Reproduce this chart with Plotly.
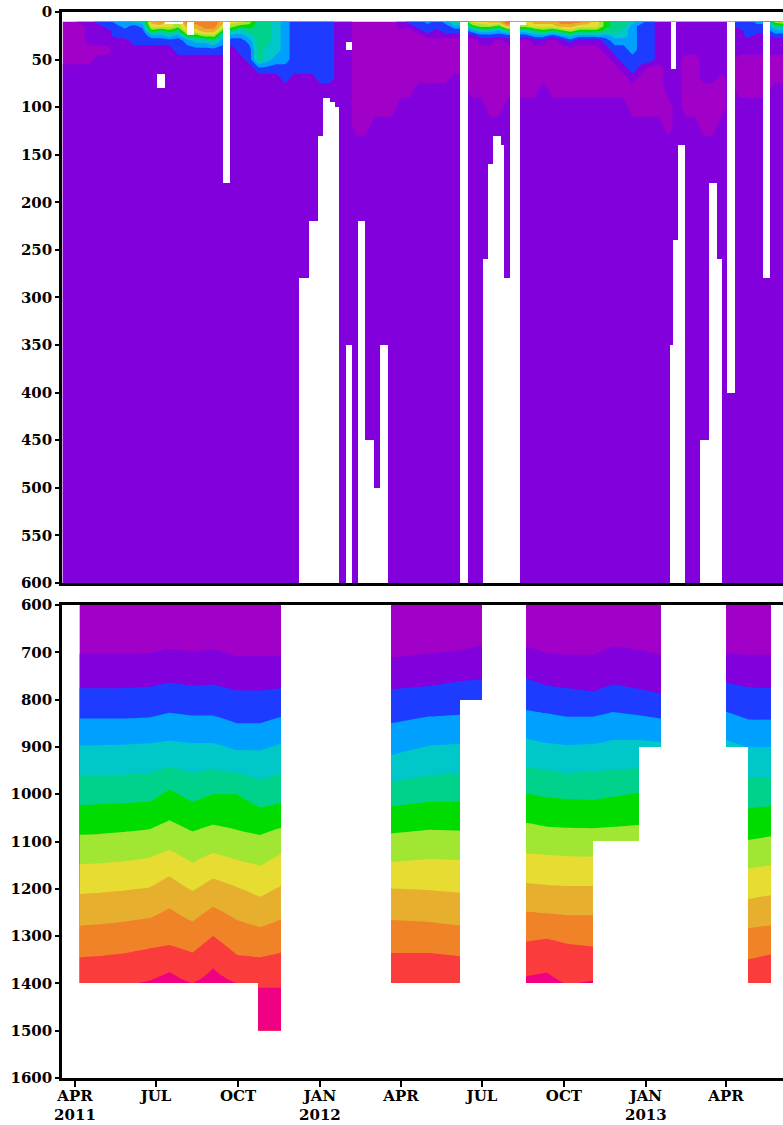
import numpy as np
import pandas as pd
import plotly.graph_objects as go

# ---------------- colour bands (low -> high) ----------------
band_colors = ["#A000C8", "#8200DC", "#1E3CFF", "#00A0FF", "#00C8C8", "#00D28C",
               "#00DC00", "#A0E632", "#E6DC32", "#E6AF2D", "#F08228", "#FA3C3C", "#F00082"]

# ---------------- upper panel (0-600 m) ----------------
top_start = "2011-03-18"
top_step = "10D"
top_depths = [10, 15, 20, 25, 30, 40, 50, 60, 70, 80, 100, 120, 140, 600]
# one string per profile, one band index (hex) per depth in top_depths
top_profiles = [
    "00000001111111", "00000001111111", "10000001111111", "11111001111111",
    "21111011111111", "22111011111111", "32221111111111", "33221111111111",
    "42222111111111", "43222111111111", "98632111111111", "a8532111111111",
    "88642111111111", "77532211111111", "b9863211111111", "a9864211111111",
    "aa974211111111", "aa975211111111", "98643211111111", "87532111111111",
    "86432211111111", "76543221111111", "55555552111111", "55555442111111",
    "44444432111111", "33333332211111", "22222222111111", "22222222111111",
    "22222222111111", "22222222211111", "22222222211111", "11111111111111",
    "11111111111111", "00000000000011", "00000000000011", "00000000000111",
    "00000000000111", "00000000000111", "11000000001111", "21000000001111",
    "22100000011111", "32210000011111", "22110000011111", "32210000011111",
    "53210000111111", "53210000111111", "86310000001111", "87421000001111",
    "97421000000111", "96320000000111", "b9521000001111", "97421000001111",
    "87420000001111", "98531000001111", "98631000011111", "98520000001111",
    "a9631000001111", "a9742000001111", "a8631000001111", "98631000001111",
    "88631000001111", "66532100001111", "55543210001111", "55443221001111",
    "43333322100111", "32222221000111", "22222220000111", "11111110000111",
    "11111111110011", "11111111111111", "11111100000111", "11111100000111",
    "11111111100011", "11111111100011", "11111111000111", "11111111111111",
    "22111100001111", "22221100001111", "32211100001111", "32211100001111",
    "75321100011111", "85321100011111",
]
# missing data in the upper panel: (start, end, top depth, bottom depth)
top_missing = [
    ("2011-07-02", "2011-07-11", 65, 80),
    ("2011-07-11", "2011-07-31", 10, 13),
    ("2011-08-05", "2011-08-13", 10, 24),
    ("2011-09-14", "2011-09-22", 10, 180),
    ("2011-12-09", "2011-12-20", 280, 600),
    ("2011-12-20", "2011-12-30", 220, 600),
    ("2011-12-30", "2012-01-04", 130, 600),
    ("2012-01-04", "2012-01-12", 90, 600),
    ("2012-01-12", "2012-01-18", 95, 600),
    ("2012-01-18", "2012-01-23", 100, 600),
    ("2012-01-30", "2012-02-06", 32, 40),
    ("2012-01-30", "2012-02-06", 350, 600),
    ("2012-02-13", "2012-02-21", 220, 600),
    ("2012-02-21", "2012-03-02", 450, 600),
    ("2012-03-02", "2012-03-09", 500, 600),
    ("2012-03-09", "2012-03-18", 350, 600),
    ("2012-06-06", "2012-06-15", 10, 600),
    ("2012-07-02", "2012-07-08", 260, 600),
    ("2012-07-08", "2012-07-13", 160, 600),
    ("2012-07-13", "2012-07-22", 130, 600),
    ("2012-07-22", "2012-07-26", 140, 600),
    ("2012-07-26", "2012-08-02", 280, 600),
    ("2012-08-02", "2012-08-13", 10, 600),
    ("2012-08-13", "2012-08-19", 10, 14),
    ("2013-01-29", "2013-02-04", 10, 60),
    ("2013-01-29", "2013-01-31", 350, 600),
    ("2013-01-31", "2013-02-06", 240, 600),
    ("2013-02-06", "2013-02-14", 140, 600),
    ("2013-03-03", "2013-03-13", 450, 600),
    ("2013-03-13", "2013-03-22", 180, 600),
    ("2013-03-22", "2013-03-27", 260, 600),
    ("2013-04-02", "2013-04-11", 10, 400),
    ("2013-05-12", "2013-05-20", 10, 280),
]

# ---------------- lower panel (600-1600 m) ----------------
bottom_dates = [
    "2011-04-06", "2011-04-29", "2011-05-25", "2011-06-24", "2011-07-16",
    "2011-08-11", "2011-09-03", "2011-09-30", "2011-10-26", "2011-11-18",
    "2012-03-21", "2012-05-03", "2012-06-06", "2012-07-01",
    "2012-08-19", "2012-09-12", "2012-10-04", "2012-11-03", "2012-11-25",
    "2012-12-24", "2013-01-18",
    "2013-04-01", "2013-04-26", "2013-05-22",
]
# depth of each of the 12 band boundaries for every profile
bottom_boundaries = [
    [704, 776, 840, 897, 961, 1023, 1086, 1148, 1211, 1278, 1345, 1420],
    [704, 776, 840, 896, 960, 1021, 1084, 1146, 1208, 1275, 1342, 1420],
    [704, 776, 840, 895, 959, 1019, 1080, 1142, 1204, 1270, 1337, 1405],
    [702, 773, 838, 892, 956, 1016, 1074, 1134, 1197, 1262, 1326, 1393],
    [693, 764, 828, 887, 942, 990, 1055, 1118, 1173, 1241, 1319, 1375],
    [699, 771, 834, 892, 956, 1016, 1079, 1145, 1205, 1269, 1335, 1400],
    [694, 768, 834, 892, 947, 1000, 1064, 1124, 1178, 1238, 1300, 1368],
    [709, 781, 850, 907, 956, 1000, 1076, 1139, 1196, 1266, 1340, 1400],
    [708, 781, 850, 907, 969, 1028, 1086, 1151, 1217, 1281, 1345, 1409],
    [708, 776, 837, 893, 957, 1019, 1071, 1126, 1194, 1265, 1335, 1409],
    [711, 778, 850, 917, 974, 1025, 1083, 1143, 1199, 1266, 1335, 1420],
    [703, 771, 836, 897, 960, 1016, 1075, 1137, 1203, 1270, 1335, 1420],
    [697, 761, 832, 893, 956, 1016, 1077, 1139, 1208, 1278, 1342, 1420],
    [686, 757, 832, 893, 956, 1016, 1077, 1139, 1208, 1278, 1342, 1420],
    [688, 755, 822, 882, 942, 998, 1060, 1125, 1188, 1248, 1312, 1384],
    [702, 770, 829, 892, 949, 1007, 1069, 1128, 1192, 1252, 1305, 1377],
    [706, 776, 836, 896, 956, 1010, 1071, 1131, 1194, 1256, 1315, 1403],
    [706, 783, 836, 894, 952, 1012, 1072, 1132, 1194, 1256, 1322, 1393],
    [688, 768, 826, 885, 949, 1005, 1069, 1130, 1192, 1254, 1318, 1395],
    [695, 778, 833, 885, 945, 997, 1065, 1130, 1192, 1254, 1318, 1395],
    [706, 788, 840, 890, 950, 1000, 1065, 1130, 1192, 1254, 1318, 1395],
    [702, 764, 826, 885, 950, 1015, 1080, 1145, 1205, 1270, 1335, 1420],
    [706, 774, 842, 901, 966, 1030, 1097, 1157, 1222, 1283, 1349, 1420],
    [706, 776, 843, 900, 963, 1025, 1089, 1150, 1213, 1277, 1338, 1420],
]
bottom_missing = [
    ("2011-04-06", "2011-10-24", 1400, 1500),
    ("2011-11-18", "2012-03-21", 600, 1500),
    ("2012-03-21", "2012-06-06", 1400, 1500),
    ("2012-06-06", "2012-07-01", 800, 1500),
    ("2012-07-01", "2012-08-19", 600, 1500),
    ("2012-08-19", "2012-11-03", 1400, 1500),
    ("2012-11-03", "2012-12-24", 1100, 1500),
    ("2012-12-24", "2013-01-18", 900, 1500),
    ("2013-01-18", "2013-04-01", 600, 1500),
    ("2013-04-01", "2013-04-26", 900, 1500),
    ("2013-04-26", "2013-05-22", 1400, 1500),
    ("2013-05-22", "2013-06-04", 600, 1600),
]

# ---------------- axes ----------------
x_range = ["2011-03-17 10:00", "2013-06-04"]
tick_dates = ["2011-04-01", "2011-07-01", "2011-10-01", "2012-01-01", "2012-04-01",
              "2012-07-01", "2012-10-01", "2013-01-01", "2013-04-01"]
tick_text = ["APR<br>2011", "JUL", "OCT", "JAN<br>2012", "APR", "JUL", "OCT",
             "JAN<br>2013", "APR"]
top_ticks = list(range(0, 601, 50))
bottom_ticks = list(range(600, 1601, 100))

# ---------------- build figure ----------------
n = len(band_colors)
cscale = []
for k, c in enumerate(band_colors):
    lo = max(0.0, (k - 0.5) / (n - 1))
    hi = min(1.0, (k + 0.5) / (n - 1))
    cscale.append([lo, c])
    cscale.append([hi, c])


def contour(x, y, z, xa, ya):
    return go.Contour(
        x=x, y=y, z=z, xaxis=xa, yaxis=ya, colorscale=cscale, autocontour=False,
        contours=dict(start=1, end=12, size=1, coloring="fill", showlines=False),
        line=dict(width=0, smoothing=0), showscale=False, hoverinfo="skip")


def mask(spans, xa, ya):
    """white blocks where the record has no data"""
    starts = pd.to_datetime([s[0] for s in spans])
    ends = pd.to_datetime([s[1] for s in spans])
    mids = starts + (ends - starts) / 2
    widths = [(e - s).total_seconds() * 1000.0 for s, e in zip(starts, ends)]
    return go.Bar(x=mids, y=[s[3] - s[2] for s in spans], base=[s[2] for s in spans],
                  width=widths, marker=dict(color="white", line=dict(width=0)),
                  xaxis=xa, yaxis=ya, hoverinfo="skip")


top_x = pd.date_range(top_start, periods=len(top_profiles), freq=top_step)
top_z = [[int(p[j], 16) + 0.5 for p in top_profiles] for j in range(len(top_depths))]

bottom_grid = np.arange(600, 1501, 10)
bottom_z = np.array([
    np.interp(bottom_grid, [b[0] - 100] + b + [b[-1] + 100], list(range(0, 14)))
    for b in bottom_boundaries]).T

fig = go.Figure()
fig.add_trace(contour(top_x, top_depths, top_z, "x2", "y2"))
fig.add_trace(mask(top_missing, "x2", "y2"))
fig.add_trace(contour(pd.to_datetime(bottom_dates), bottom_grid, bottom_z, "x", "y"))
fig.add_trace(mask(bottom_missing, "x", "y"))

font = dict(family="DejaVu Serif", size=15, color="black", weight="bold")
common_x = dict(range=x_range, type="date", showgrid=False, zeroline=False,
                showline=True, linewidth=2.5, linecolor="black", mirror=True)
common_y = dict(showgrid=False, zeroline=False, showline=True, linewidth=2.5,
                linecolor="black", ticks="outside", ticklen=4, tickwidth=2,
                tickcolor="black", tickfont=font)

fig.update_layout(
    width=783, height=1125,
    margin=dict(l=62, r=0, t=12, b=47),
    paper_bgcolor="white", plot_bgcolor="white", showlegend=False,
    barmode="overlay", bargap=0,
    xaxis=dict(domain=[0, 1], anchor="y", tickvals=tick_dates, ticktext=tick_text,
               ticks="outside", ticklen=6, tickwidth=2, tickcolor="black",
               ticklabelstandoff=-4, tickfont=font, **common_x),
    yaxis=dict(domain=[0, 0.4437], anchor="x", range=[1600, 600],
               tickvals=bottom_ticks, **common_y),
    xaxis2=dict(domain=[0, 1], anchor="y2", showticklabels=False, ticks="",
                **common_x),
    yaxis2=dict(domain=[0.4644, 1], anchor="x2", range=[600, 0],
                tickvals=top_ticks, **common_y),
)

fig.write_html("out.html", config={"displayModeBar": False},
               post_script="document.body.style.margin='0';"
                           "document.body.style.overflow='hidden';")
